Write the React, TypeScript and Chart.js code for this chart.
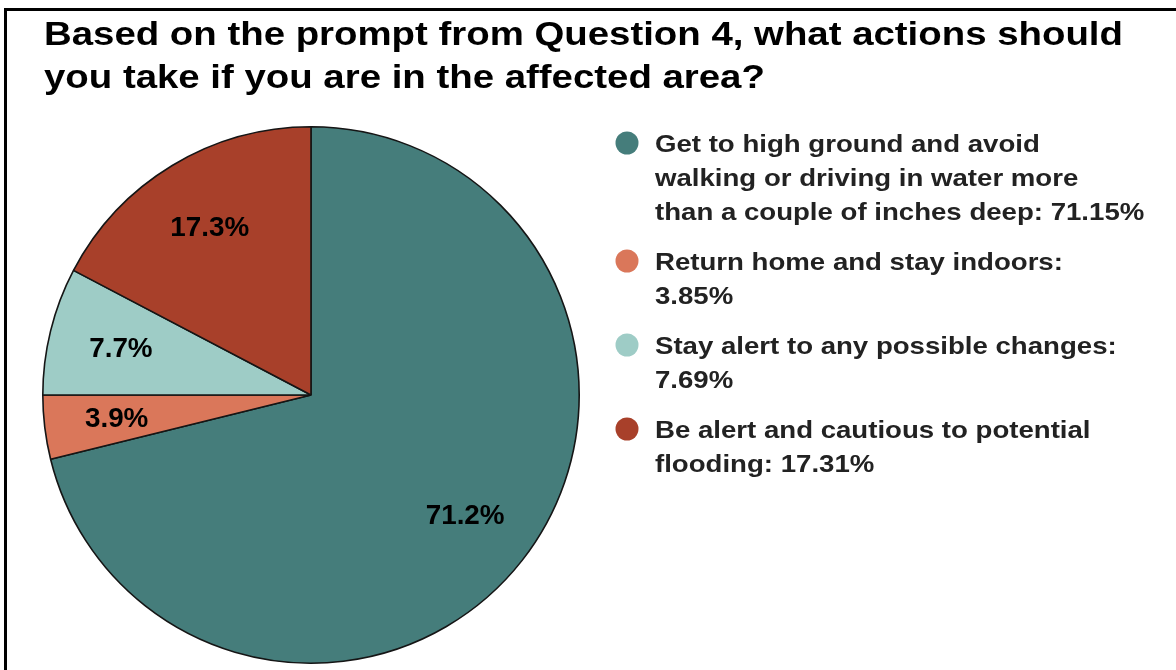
import React, { useEffect, useRef } from "react";
import { Chart, registerables } from "chart.js";

Chart.register(...registerables);

const titleLines = [
  "Based on the prompt from Question 4, what actions should",
  "you take if you are in the affected area?",
];

const categories = [
  "Get to high ground and avoid walking or driving in water more than a couple of inches deep",
  "Return home and stay indoors",
  "Stay alert to any possible changes",
  "Be alert and cautious to potential flooding",
];

// legend line layout; {v} is replaced by the value
const legendLineTemplates = [
  ["Get to high ground and avoid", "walking or driving in water more", "than a couple of inches deep: {v}"],
  ["Return home and stay indoors:", "{v}"],
  ["Stay alert to any possible changes:", "{v}"],
  ["Be alert and cautious to potential", "flooding: {v}"],
];

const values = [71.15, 3.85, 7.69, 17.31];

const colors = ["#457D7B", "#DA775A", "#9ECCC6", "#A8402A"];

const FONT = '"Liberation Sans", Arial, sans-serif';

function wideText(ctx: CanvasRenderingContext2D, text: string, x: number, y: number, sx: number) {
  ctx.save();
  ctx.translate(x, y);
  ctx.scale(sx, 1);
  ctx.fillText(text, 0, 0);
  ctx.restore();
}

const overlayPlugin = {
  id: "overlay",
  afterDraw(chart: any) {
    const ctx = chart.ctx as CanvasRenderingContext2D;
    ctx.save();
    // title
    ctx.fillStyle = "#000";
    ctx.font = `bold 33px ${FONT}`;
    ctx.textAlign = "left";
    ctx.textBaseline = "alphabetic";
    titleLines.forEach((t, i) => wideText(ctx, t, 44, 45 + i * 43, 1.163));

    // data labels
    const meta = chart.getDatasetMeta(0);
    ctx.font = `bold 27px ${FONT}`;
    ctx.textAlign = "center";
    ctx.textBaseline = "middle";
    meta.data.forEach((arc: any, i: number) => {
      const p = arc.getProps(["x", "y", "startAngle", "endAngle", "outerRadius"], true);
      const mid = (p.startAngle + p.endAngle) / 2;
      const r = p.outerRadius * 0.73;
      const label = (Math.round(values[i] * 10 + 1e-9) / 10).toFixed(1) + "%";
      ctx.fillStyle = "#000";
      wideText(ctx, label, p.x + Math.cos(mid) * r, p.y + Math.sin(mid) * r + 1, 1.03);
    });

    // legend
    ctx.textAlign = "left";
    ctx.textBaseline = "alphabetic";
    ctx.font = `bold 24px ${FONT}`;
    let y = 143;
    legendLineTemplates.forEach((lines, i) => {
      ctx.fillStyle = colors[i];
      ctx.beginPath();
      ctx.arc(627, y, 11.5, 0, Math.PI * 2);
      ctx.fill();
      ctx.fillStyle = "#222";
      lines.forEach((l, j) => {
        const txt = l.replace("{v}", values[i].toFixed(2) + "%");
        wideText(ctx, txt, 655, y + 8.5 + j * 34, 1.15);
      });
      y += lines.length * 34 + 16;
    });
    ctx.restore();
  },
};

export default function App() {
  const ref = useRef<HTMLCanvasElement>(null);
  useEffect(() => {
    if (!ref.current) return;
    const chart = new Chart(ref.current, {
      type: "pie",
      data: {
        labels: categories,
        datasets: [
          {
            data: values,
            backgroundColor: colors,
            borderColor: "#151515",
            borderWidth: 1.6,
          },
        ],
      },
      options: {
        responsive: false,
        animation: false,
        devicePixelRatio: 1,
        layout: { padding: { left: 42, right: 596, top: 126, bottom: 6 } },
        plugins: {
          legend: { display: false },
          title: { display: false },
          tooltip: { enabled: false },
        },
      },
      plugins: [overlayPlugin],
    });
    return () => chart.destroy();
  }, []);
  return (
    <div style={{ position: "fixed", left: 0, top: 0, width: 1176, height: 670, background: "#fff", overflow: "hidden" }}>
      <div
        style={{
          position: "absolute",
          left: 4,
          top: 8,
          width: 1300,
          height: 800,
          border: "3px solid #000",
        }}
      />
      <canvas ref={ref} width={1176} height={670} style={{ position: "absolute", left: 0, top: 0 }} />
    </div>
  );
}
